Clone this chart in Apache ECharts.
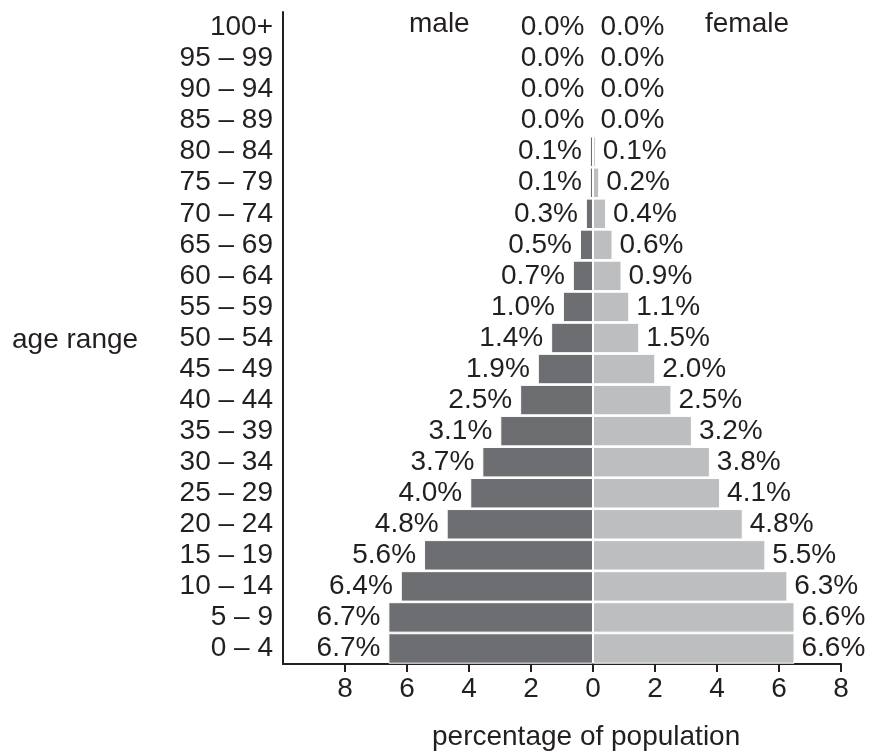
<!DOCTYPE html>
<html>
<head>
<meta charset="utf-8">
<script src="https://cdn.jsdelivr.net/npm/echarts@6/dist/echarts.min.js"></script>
<style>
  html, body { margin: 0; padding: 0; background: #fff; }
  #chart { width: 872px; height: 754px; }
</style>
</head>
<body>
<div id="chart"></div>
<script>
// age groups, bottom to top
var ageGroups = ['0 – 4', '5 – 9', '10 – 14', '15 – 19', '20 – 24', '25 – 29', '30 – 34', '35 – 39',
  '40 – 44', '45 – 49', '50 – 54', '55 – 59', '60 – 64', '65 – 69', '70 – 74', '75 – 79',
  '80 – 84', '85 – 89', '90 – 94', '95 – 99', '100+'];
// bar lengths (percent)
var maleBars = [6.6, 6.6, 6.2, 5.45, 4.72, 3.96, 3.57, 2.99, 2.35, 1.78, 1.35, 0.97, 0.65, 0.42, 0.23, 0.1, 0.1, 0, 0, 0, 0];
var femaleBars = [6.5, 6.5, 6.27, 5.56, 4.83, 4.1, 3.77, 3.19, 2.53, 2.01, 1.49, 1.17, 0.92, 0.63, 0.42, 0.2, 0.09, 0, 0, 0, 0];
// printed labels
var maleLabels = ['6.7%', '6.7%', '6.4%', '5.6%', '4.8%', '4.0%', '3.7%', '3.1%', '2.5%', '1.9%', '1.4%', '1.0%',
  '0.7%', '0.5%', '0.3%', '0.1%', '0.1%', '0.0%', '0.0%', '0.0%', '0.0%'];
var femaleLabels = ['6.6%', '6.6%', '6.3%', '5.5%', '4.8%', '4.1%', '3.8%', '3.2%', '2.5%', '2.0%', '1.5%', '1.1%',
  '0.9%', '0.6%', '0.4%', '0.2%', '0.1%', '0.0%', '0.0%', '0.0%', '0.0%'];
var xTicks = [-8, -6, -4, -2, 0, 2, 4, 6, 8];

var font = '"Liberation Sans", Arial, sans-serif';
var ink = '#231f20';

var myChart = echarts.init(document.getElementById('chart'));
myChart.setOption({
  animation: false,
  grid: {
    left: 283,
    right: 31,
    top: 12,
    bottom: 90,
    containLabel: false,
    outerBoundsMode: 'none'
  },
  xAxis: {
    type: 'value',
    min: -10,
    max: 8,
    interval: 2,
    splitLine: { show: false },
    axisLine: { show: true, lineStyle: { color: ink, width: 2 } },
    axisTick: { show: true, length: 8, customValues: xTicks, lineStyle: { color: ink, width: 2 } },
    axisLabel: {
      customValues: xTicks,
      margin: 11,
      color: ink,
      fontSize: 28,
      fontFamily: font,
      formatter: function (v) { return Math.abs(v); }
    }
  },
  yAxis: {
    type: 'category',
    data: ageGroups,
    axisLine: { show: true, onZero: false, lineStyle: { color: ink, width: 2 } },
    axisTick: { show: false },
    axisLabel: { interval: 0, margin: 10, color: ink, fontSize: 28, fontFamily: font }
  },
  series: [{
    name: 'male',
    type: 'bar',
    data: maleBars.map(function (v) { return -v; }),
    barGap: '-100%',
    barCategoryGap: '2%',
    itemStyle: { color: '#6d6e71', borderColor: '#fff', borderWidth: 1 },
    label: {
      show: true,
      position: 'left',
      distance: 8,
      color: ink,
      fontSize: 28,
      fontFamily: font,
      formatter: function (p) { return maleLabels[p.dataIndex]; }
    }
  }, {
    name: 'female',
    type: 'bar',
    data: femaleBars,
    barGap: '-100%',
    barCategoryGap: '2%',
    itemStyle: { color: '#bcbec0', borderColor: '#fff', borderWidth: 1 },
    label: {
      show: true,
      position: 'right',
      distance: 7,
      color: ink,
      fontSize: 28,
      fontFamily: font,
      formatter: function (p) { return femaleLabels[p.dataIndex]; }
    }
  }],
  graphic: [
    { type: 'text', left: 409, top: 10, style: { text: 'male', fill: ink, font: '28px ' + font } },
    { type: 'text', left: 705, top: 10, style: { text: 'female', fill: ink, font: '28px ' + font } },
    { type: 'text', left: 12, top: 326, style: { text: 'age range', fill: ink, font: '28px ' + font } },
    { type: 'text', left: 432, top: 723, style: { text: 'percentage of population', fill: ink, font: '28px ' + font } }
  ]
});
</script>
</body>
</html>
